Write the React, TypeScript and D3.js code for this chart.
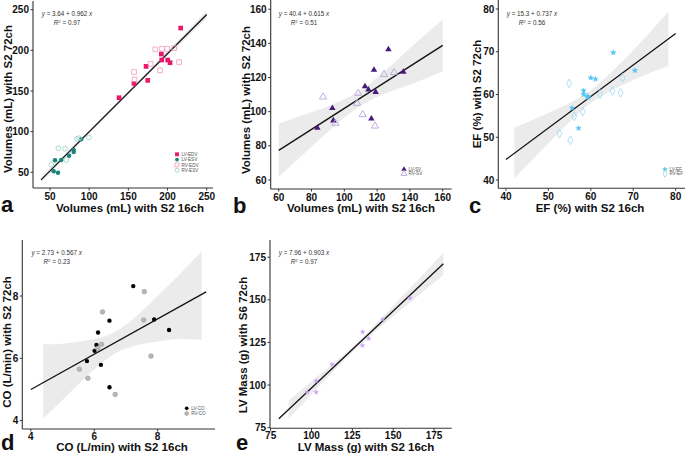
import React from "react";
import * as d3 from "d3";

// ---------- Data ----------
// Panel a: volumes
const lvEdv16 = [216.8, 192.1, 192.6, 200.2, 203.2, 172.6, 174.7, 157.2, 138.1];
const lvEdv72 = [227.4, 195.5, 188.1, 188.1, 184.8, 180.3, 163.1, 159.4, 141.7];
const rvEdv16 = [184.4, 193.0, 199.4, 208.5, 214.7, 178.4, 190.4, 157.2, 158.0];
const rvEdv72 = [201.2, 202.0, 202.0, 202.8, 185.6, 183.5, 175.4, 173.3, 164.3];
const lvEsv16 = [89.6, 80.2, 80.2, 74.3, 64.4, 56.4, 54.7, 60.2];
const lvEsv72 = [90.6, 77.4, 75.0, 70.4, 65.1, 64.7, 51.2, 49.5];
const rvEsv16 = [99.8, 84.5, 60.6, 69.1, 70.8, 51.7, 87.0];
const rvEsv72 = [93.0, 91.0, 79.5, 79.0, 65.1, 59.3, 92.0];
const bandAX = [40, 80, 135, 190, 250];
const bandALo = [38.2, 77.9, 131.7, 183.7, 239.6];
const bandAHi = [46.0, 83.3, 135.3, 189.1, 248.6];

// Panel b: stroke volume
const lvSv16 = [126.9, 118.1, 136.0, 112.6, 114.7, 119.1, 92.7, 93.3, 116.5, 83.6];
const lvSv72 = [136.4, 124.4, 123.3, 114.8, 112.9, 111.5, 102.0, 94.8, 95.9, 90.5];
const rvSv16 = [87.0, 108.4, 107.8, 111.2, 118.7, 94.6, 124.2, 130.3];
const rvSv72 = [108.6, 110.8, 104.9, 98.3, 91.6, 93.2, 121.9, 122.9];
const bandBX = [60, 75, 90, 109, 125, 142, 160];
const bandBLo = [62.0, 75.0, 88.3, 102.9, 110.6, 116.5, 123.5];
const bandBHi = [93.0, 98.0, 103.2, 111.9, 124.0, 138.9, 154.0];

// Panel c: ejection fraction
const lvEf16 = [65.3, 70.4, 60.0, 61.1, 58.3, 58.3, 59.2, 59.4, 55.6, 57.1];
const lvEf72 = [69.8, 65.6, 63.9, 63.6, 60.9, 60.0, 59.6, 59.3, 56.8, 52.1];
const rvEf16 = [54.9, 67.5, 62.2, 65.1, 67.0, 56.1, 58.1, 52.6, 55.2];
const rvEf72 = [62.6, 63.9, 60.1, 60.8, 60.4, 54.9, 56.0, 50.8, 49.3];
const bandCX = [42, 50, 55, 60, 65, 71, 78.3];
const bandCLo = [40.4, 48.6, 53.6, 58.0, 61.0, 63.8, 66.7];
const bandCHi = [52.2, 55.7, 58.0, 61.0, 65.4, 71.4, 79.4];

// Panel d: cardiac output
const lvCo16 = [7.23, 6.48, 6.12, 6.07, 6.01, 5.77, 6.21, 7.89, 8.36, 6.48];
const lvCo72 = [8.32, 7.21, 6.83, 6.43, 6.24, 5.91, 5.79, 7.25, 6.91, 5.07];
const rvCo16 = [7.58, 6.26, 7.56, 6.23, 6.11, 7.79, 5.53, 5.8, 6.66];
const rvCo72 = [8.14, 7.49, 7.23, 6.45, 6.32, 6.07, 5.65, 5.36, 4.84];
const bandDX = [4.39, 5.0, 5.6, 6.2, 6.7, 7.3, 8.0, 8.7, 9.39];
const bandDLo = [4.07, 4.66, 5.26, 5.82, 6.18, 6.41, 6.54, 6.62, 6.59];
const bandDHi = [6.45, 6.47, 6.55, 6.67, 6.88, 7.33, 8.0, 8.7, 9.44];

// Panel e: LV mass
const lvMass16 = [160.3, 143.6, 131.3, 135.0, 131.1, 112.6, 102.8, 102.8, 97.4];
const lvMass72 = [151.1, 138.5, 131.1, 127.2, 123.2, 112.1, 102.4, 95.8, 95.8];
const bandEX = [86, 100, 115, 128, 142, 160, 180.7];
const bandELo = [80.3, 94.6, 109.7, 122.0, 133.9, 148.3, 164.6];
const bandEHi = [90.9, 102.0, 114.0, 125.0, 138.4, 156.5, 177.6];

// Fits (as printed)
const fitIntercepts = [3.64, 40.4, 15.3, 2.73, 7.96];
const fitSlopes = [0.962, 0.615, 0.737, 0.567, 0.903];
const fitR2 = ["0.97", "0.51", "0.56", "0.23", "0.97"];

// Ticks
const ticksA = [50, 100, 150, 200, 250];
const ticksB = [60, 80, 100, 120, 140, 160];
const ticksC = [40, 50, 60, 70, 80];
const ticksD = [4, 6, 8];
const ticksE = [75, 100, 125, 150, 175];

const FONT = "'Liberation Sans', Arial, Helvetica, sans-serif";

type Series = {
  xs: number[];
  ys: number[];
  label: string;
  type: d3.SymbolType;
  size: number;
  fill: string;
  stroke: string;
  sw: number;
};

type PanelProps = {
  xDomain: [number, number];
  xRange: [number, number];
  yDomain: [number, number];
  yRange: [number, number];
  xTicks: number[];
  yTicks: number[];
  series: Series[];
  fitIdx: number;
  fitX: [number, number];
  band: { x: number[]; lo: number[]; hi: number[] };
  eq: { cx: number; y: number };
  legend?: { x: number; y: number; dy: number };
  xTitle: { text: string; x: number; y: number };
  yTitle: { text: string; x: number; y: number };
  letter: { text: string; x: number; y: number };
  tickDy?: number;
};

function Panel(p: PanelProps) {
  const xs = d3.scaleLinear().domain(p.xDomain).range(p.xRange);
  const ys = d3.scaleLinear().domain(p.yDomain).range(p.yRange);
  const a = fitIntercepts[p.fitIdx];
  const b = fitSlopes[p.fitIdx];
  const bandData = p.band.x.map((x, i) => ({ x, lo: p.band.lo[i], hi: p.band.hi[i] }));
  const area = d3
    .area<{ x: number; lo: number; hi: number }>()
    .x((d) => xs(d.x))
    .y0((d) => ys(d.lo))
    .y1((d) => ys(d.hi))
    .curve(d3.curveMonotoneX);
  const x0 = xs.range()[0];
  const y0 = ys.range()[0];
  const axisColor = "#333";
  const tickDy = p.tickDy ?? 12;
  return (
    <g>
      <path d={area(bandData) || ""} fill="#ebebeb" />
      <line
        x1={xs(p.fitX[0])}
        y1={ys(a + b * p.fitX[0])}
        x2={xs(p.fitX[1])}
        y2={ys(a + b * p.fitX[1])}
        stroke="#111"
        strokeWidth={1.3}
      />
      {p.series.map((s, si) => {
        const sym = d3.symbol().type(s.type).size(s.size)();
        return (
          <g key={si}>
            {s.xs.map((xv, i) => (
              <path
                key={i}
                d={sym || ""}
                transform={`translate(${xs(xv)},${ys(s.ys[i])})`}
                fill={s.fill}
                stroke={s.stroke}
                strokeWidth={s.sw}
              />
            ))}
          </g>
        );
      })}
      {/* axes */}
      <line x1={x0} y1={y0} x2={xs.range()[1]} y2={y0} stroke={axisColor} strokeWidth={1.1} />
      <line x1={x0} y1={y0} x2={x0} y2={ys.range()[1]} stroke={axisColor} strokeWidth={1.1} />
      {p.xTicks.map((t) => (
        <g key={"x" + t}>
          <line x1={xs(t)} x2={xs(t)} y1={y0} y2={y0 + 2.5} stroke={axisColor} strokeWidth={1} />
          <text
            x={xs(t)}
            y={y0 + tickDy}
            textAnchor="middle"
            fontFamily={FONT}
            fontWeight="bold"
            fontSize={10}
            fill="#111"
          >
            {t}
          </text>
        </g>
      ))}
      {p.yTicks.map((t) => (
        <g key={"y" + t}>
          <line x1={x0} x2={x0 - 2.5} y1={ys(t)} y2={ys(t)} stroke={axisColor} strokeWidth={1} />
          <text
            x={x0 - 4}
            y={ys(t) + 3.6}
            textAnchor="end"
            fontFamily={FONT}
            fontWeight="bold"
            fontSize={10}
            fill="#111"
          >
            {t}
          </text>
        </g>
      ))}
      {/* equation */}
      <text x={p.eq.cx} y={p.eq.y} textAnchor="middle" fontFamily={FONT} fontSize={6.3} fill="#333">
        <tspan fontStyle="italic">y</tspan>
        {` = ${a.toFixed(a < 10 ? 2 : 1)} + ${b.toFixed(3)} `}
        <tspan fontStyle="italic">x</tspan>
      </text>
      <text x={p.eq.cx} y={p.eq.y + 9.3} textAnchor="middle" fontFamily={FONT} fontSize={6.3} fill="#333">
        <tspan fontStyle="italic">R</tspan>
        <tspan fontSize={4.3} dy={-2.5}>2</tspan>
        <tspan dy={2.5}>{` = ${fitR2[p.fitIdx]}`}</tspan>
      </text>
      {/* legend */}
      {p.legend &&
        p.series.map((s, i) => {
          const sym = d3.symbol().type(s.type).size(s.size * 0.7)();
          const ly = p.legend!.y + i * p.legend!.dy;
          return (
            <g key={"l" + i}>
              <path
                d={sym || ""}
                transform={`translate(${p.legend!.x},${ly})`}
                fill={s.fill}
                stroke={s.stroke}
                strokeWidth={s.sw}
              />
              <text x={p.legend!.x + 4.5} y={ly + 1.6} fontFamily={FONT} fontSize={4.6} fill="#555">
                {s.label}
              </text>
            </g>
          );
        })}
      {/* titles */}
      <text
        x={p.xTitle.x}
        y={p.xTitle.y}
        textAnchor="middle"
        fontFamily={FONT}
        fontWeight="bold"
        fontSize={11.5}
        fill="#111"
      >
        {p.xTitle.text}
      </text>
      <text
        transform={`translate(${p.yTitle.x},${p.yTitle.y}) rotate(-90)`}
        textAnchor="middle"
        fontFamily={FONT}
        fontWeight="bold"
        fontSize={11.5}
        fill="#111"
      >
        {p.yTitle.text}
      </text>
      <text x={p.letter.x} y={p.letter.y} fontFamily={FONT} fontWeight="bold" fontSize={22} fill="#111">
        {p.letter.text}
      </text>
    </g>
  );
}

export default function App() {
  const sq = d3.symbolSquare;
  const ci = d3.symbolCircle;
  const tri = d3.symbolTriangle;
  const dia = d3.symbolDiamond;
  const star = d3.symbolStar;

  const panelA: PanelProps = {
    xDomain: [28.3, 258],
    xRange: [33, 213],
    yDomain: [30.7, 260.7],
    yRange: [188, 1],
    xTicks: ticksA,
    yTicks: ticksA,
    series: [
      { xs: lvEdv16, ys: lvEdv72, label: "LV-EDV", type: sq, size: 22, fill: "#e8186b", stroke: "none", sw: 0 },
      { xs: lvEsv16, ys: lvEsv72, label: "LV-ESV", type: ci, size: 16, fill: "#18857b", stroke: "none", sw: 0 },
      { xs: rvEdv16, ys: rvEdv72, label: "RV-EDV", type: sq, size: 22, fill: "none", stroke: "#f5a3c3", sw: 0.9 },
      { xs: rvEsv16, ys: rvEsv72, label: "RV-ESV", type: ci, size: 18, fill: "none", stroke: "#9fd6ce", sw: 0.9 },
    ],
    fitIdx: 0,
    fitX: [38.5, 250],
    band: { x: bandAX, lo: bandALo, hi: bandAHi },
    eq: { cx: 67, y: 16 },
    legend: { x: 177, y: 154.3, dy: 5.3 },
    xTitle: { text: "Volumes (mL) with S2 16ch", x: 130, y: 212 },
    yTitle: { text: "Volumes (mL) with S2 72ch", x: 12, y: 99 },
    letter: { text: "a", x: 1, y: 212 },
  };

  const panelB: PanelProps = {
    xDomain: [55.1, 165.5],
    xRange: [270.7, 451.7],
    yDomain: [54.7, 165.4],
    yRange: [189, 0],
    xTicks: ticksB,
    yTicks: ticksB,
    series: [
      { xs: lvSv16, ys: lvSv72, label: "LV-SV", type: tri, size: 18, fill: "#43197a", stroke: "none", sw: 0 },
      { xs: rvSv16, ys: rvSv72, label: "RV-SV", type: tri, size: 22, fill: "none", stroke: "#b9a5dd", sw: 0.9 },
    ],
    fitIdx: 1,
    fitX: [60, 160],
    band: { x: bandBX, lo: bandBLo, hi: bandBHi },
    eq: { cx: 304, y: 16 },
    legend: { x: 404, y: 169.3, dy: 4.4 },
    xTitle: { text: "Volumes (mL) with S2 16ch", x: 361, y: 212 },
    yTitle: { text: "Volumes (mL) with S2 72ch", x: 250, y: 100 },
    letter: { text: "b", x: 233, y: 213 },
  };

  const panelC: PanelProps = {
    xDomain: [38.2, 82.2],
    xRange: [498.3, 685],
    yDomain: [38.06, 82.1],
    yRange: [188.3, 0],
    xTicks: ticksC,
    yTicks: ticksC,
    series: [
      { xs: lvEf16, ys: lvEf72, label: "LV-EF", type: star, size: 9, fill: "#4fc3f0", stroke: "#4fc3f0", sw: 0.5 },
      { xs: rvEf16, ys: rvEf72, label: "RV-EF", type: dia, size: 22, fill: "none", stroke: "#a3dbf5", sw: 0.9 },
    ],
    fitIdx: 2,
    fitX: [40, 80],
    band: { x: bandCX, lo: bandCLo, hi: bandCHi },
    eq: { cx: 532, y: 16 },
    legend: { x: 665, y: 169.3, dy: 4.4 },
    xTitle: { text: "EF (%) with S2 16ch", x: 590, y: 212 },
    yTitle: { text: "EF (%) with S2 72ch", x: 481, y: 94 },
    letter: { text: "c", x: 469, y: 213 },
  };

  const panelD: PanelProps = {
    xDomain: [3.73, 9.81],
    xRange: [22.3, 215],
    yDomain: [3.73, 9.8],
    yRange: [429, 240],
    xTicks: ticksD,
    yTicks: ticksD,
    series: [
      { xs: lvCo16, ys: lvCo72, label: "LV-CO", type: ci, size: 15, fill: "#000", stroke: "none", sw: 0 },
      { xs: rvCo16, ys: rvCo72, label: "RV-CO", type: ci, size: 17, fill: "#b8b8b8", stroke: "#8e8e8e", sw: 0.5 },
    ],
    fitIdx: 3,
    fitX: [4, 9.53],
    band: { x: bandDX, lo: bandDLo, hi: bandDHi },
    eq: { cx: 56.7, y: 255 },
    legend: { x: 186.7, y: 408.3, dy: 5.2 },
    xTitle: { text: "CO (L/min) with S2 16ch", x: 122, y: 451 },
    yTitle: { text: "CO (L/min) with S2 72ch", x: 10.5, y: 342 },
    letter: { text: "d", x: 1, y: 450 },
    tickDy: 11,
  };

  const panelE: PanelProps = {
    xDomain: [74.6, 185.8],
    xRange: [270, 451.7],
    yDomain: [74.6, 185.1],
    yRange: [428.3, 240],
    xTicks: ticksE,
    yTicks: ticksE,
    series: [
      { xs: lvMass16, ys: lvMass72, label: "LV Mass", type: star, size: 7, fill: "#c7a0f2", stroke: "#c7a0f2", sw: 0.4 },
    ],
    fitIdx: 4,
    fitX: [80, 180.7],
    band: { x: bandEX, lo: bandELo, hi: bandEHi },
    eq: { cx: 304, y: 255 },
    xTitle: { text: "LV Mass (g) with S2 16ch", x: 366, y: 451 },
    yTitle: { text: "LV Mass (g) with S6 72ch", x: 247, y: 345 },
    letter: { text: "e", x: 236, y: 450 },
    tickDy: 11,
  };

  return (
    <div style={{ position: "absolute", left: 0, top: 0, width: 685, height: 455, background: "#fff" }}>
      <svg width={685} height={455} style={{ display: "block" }}>
        <rect width={685} height={455} fill="#fff" />
        <Panel {...panelA} />
        <Panel {...panelB} />
        <Panel {...panelC} />
        <Panel {...panelD} />
        <Panel {...panelE} />
      </svg>
    </div>
  );
}
